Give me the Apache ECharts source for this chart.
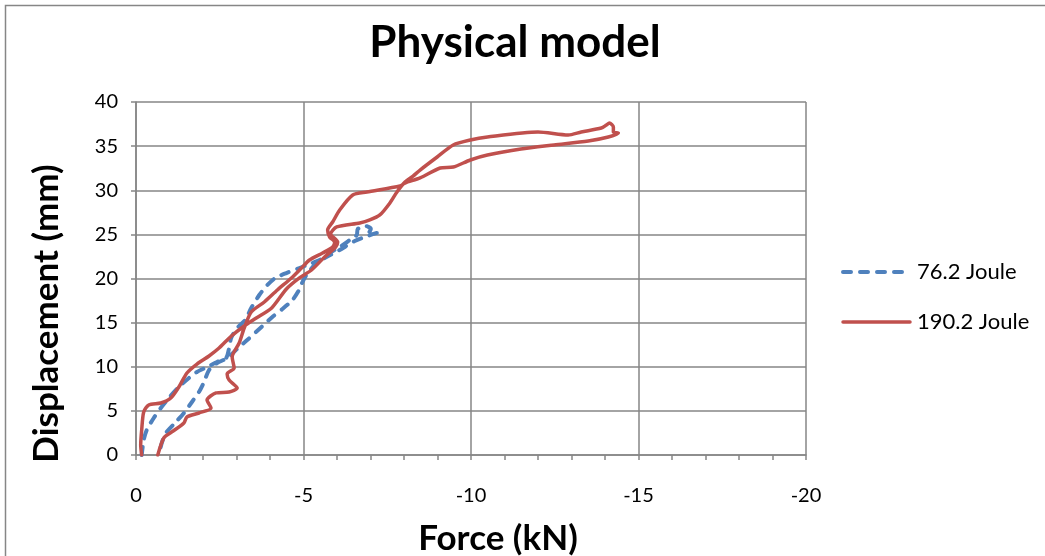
<!DOCTYPE html>
<html>
<head>
<meta charset="utf-8">
<script src="https://cdn.jsdelivr.net/npm/echarts@6/dist/echarts.min.js"></script>
<style>
  html, body { margin: 0; padding: 0; background: #ffffff; }
  #chart { width: 1045px; height: 556px; }
</style>
</head>
<body>
<div id="chart"></div>
<script>
// Hysteresis loops of the physical model: force (kN) against displacement (mm)
const seriesNames = ['76.2 Joule', '190.2 Joule'];

// 76.2 J impact: loading then unloading branch
const force76 = [-0.17,-0.23,-0.32,-0.53,-0.74,-0.98,-1.28,-1.58,-1.82,-2.12,-2.42,-2.69,-2.78,-2.84,-3.02,-3.26,-3.44,-3.68,-3.92,-4.16,-4.49,-4.88,-5.18,-5.48,-5.78,-6.08,-6.38,-6.59,-6.62,-6.86,-7.01,-6.95,-7.19,-6.92,-6.53,-6.08,-5.63,-5.33,-5.09,-4.97,-4.85,-4.67,-4.37,-4.07,-3.68,-3.32,-3.08,-2.72,-2.42,-2.18,-2.03,-1.88,-1.67,-1.43,-1.19,-0.89,-0.77,-0.68];
const disp76 = [0,1.70,2.83,4.19,5.33,6.46,7.71,8.73,9.41,9.97,10.54,10.99,12.12,13.26,14.39,15.30,16.66,18.13,19.26,20.06,20.62,21.19,21.64,22.10,22.89,23.57,24.36,24.93,25.61,25.95,25.61,25.16,25.16,24.82,24.25,23.23,22.32,21.53,20.40,19.60,18.58,17.56,16.54,15.64,14.28,13.03,12.24,10.99,10.42,9.63,8.27,7.14,6.01,4.76,3.74,2.49,1.36,0];

// 190.2 J impact: loading then unloading branch
const force190 = [-0.17,-0.14,-0.17,-0.23,-0.38,-0.74,-1.04,-1.28,-1.52,-1.82,-2.18,-2.48,-2.84,-3.23,-3.59,-4.05,-4.49,-4.88,-5.24,-5.63,-5.96,-6.02,-5.81,-5.99,-6.68,-6.98,-7.28,-7.58,-7.79,-8.03,-8.27,-8.48,-8.99,-9.47,-9.98,-10.49,-12.00,-12.90,-13.29,-13.89,-14.04,-14.13,-14.25,-14.25,-14.40,-14.10,-13.50,-12.48,-11.49,-10.49,-9.98,-9.47,-9.08,-8.48,-8.03,-7.88,-6.89,-6.47,-6.08,-5.87,-5.72,-5.78,-5.93,-5.87,-5.57,-5.18,-4.94,-4.64,-4.22,-3.83,-3.44,-3.23,-3.08,-2.87,-2.93,-2.72,-2.78,-3.02,-2.78,-2.39,-2.12,-2.24,-1.88,-1.52,-1.43,-1.07,-0.83,-0.65];
const disp190 = [0,1.13,2.83,4.87,5.67,5.89,6.46,7.71,9.29,10.31,11.22,12.12,13.46,14.62,15.52,16.66,18.81,20.06,20.96,22.44,23.57,24.14,25.04,25.84,26.29,26.63,27.20,28.56,29.80,30.93,31.61,32.29,33.77,35.13,35.69,36.03,36.60,36.26,36.60,37.05,37.39,37.62,37.17,36.60,36.48,36.03,35.58,35.13,34.67,33.99,33.43,32.63,32.52,31.39,30.82,30.48,29.80,29.46,27.76,26.40,25.50,24.70,24.14,23.57,22.89,22.10,21.19,20.06,18.70,17.34,16.20,14.39,12.69,11.10,9.86,9.18,8.50,7.59,7.14,7.03,6.23,5.33,4.76,4.31,3.63,2.61,1.93,0];

// Axis ranges
const forceMin = -20, forceMax = 0, forceStep = 5;
const dispMin = 0, dispMax = 40, dispStep = 5;

const pair = (xs, ys) => xs.map((x, i) => [x, ys[i]]);

const FONT = 'Lato, "Open Sans", sans-serif';
const GRID_GRAY = '#868686';
const BLUE = '#4F81BD';
const RED = '#C0504D';
const BLUE_DASH = [8, 9];

const chart = echarts.init(document.getElementById('chart'), null, { renderer: 'canvas' });

// Legend keys drawn at the right of the plot
function legendKey(y, name, color, width, dash) {
  return [
    { type: 'line', shape: { x1: 843, y1: y, x2: 910, y2: y },
      style: { stroke: color, lineWidth: width, lineDash: dash || null, lineCap: 'round' }, silent: true },
    { type: 'text', x: 917, y: y, style: { text: name, font: '22px ' + FONT, fill: '#000', textVerticalAlign: 'middle' }, silent: true }
  ];
}

chart.setOption({
  backgroundColor: '#ffffff',
  animation: false,
  textStyle: { fontFamily: FONT, color: '#000' },
  grid: { left: 136, right: 239, top: 102, bottom: 101, containLabel: false, outerBoundsMode: 'none' },
  graphic: [
    { type: 'rect', shape: { x: 5.5, y: 5.5, width: 1100, height: 600 }, style: { fill: 'none', stroke: GRID_GRAY, lineWidth: 1.5 }, silent: true, z: -1 },
    { type: 'text', x: 515, y: 43, style: { text: 'Physical model', font: 'bold 44px ' + FONT, fill: '#000', textAlign: 'center', textVerticalAlign: 'middle' } }
  ].concat(
    legendKey(272, seriesNames[0], BLUE, 4, BLUE_DASH),
    legendKey(322, seriesNames[1], RED, 3.5, null)
  ),
  xAxis: {
    type: 'value',
    inverse: true,
    min: forceMin,
    max: forceMax,
    interval: forceStep,
    name: 'Force (kN)',
    nameLocation: 'middle',
    nameGap: 66,
    nameTextStyle: { fontFamily: FONT, fontSize: 35, fontWeight: 'bold', color: '#000', padding: [0, 0, 0, 54] },
    axisLine: { show: true, lineStyle: { color: GRID_GRAY, width: 1.5 } },
    axisTick: { show: true, inside: false, length: 5, lineStyle: { color: GRID_GRAY, width: 1.5 } },
    minorTick: { show: true, splitNumber: 5, length: 5, lineStyle: { color: GRID_GRAY, width: 1.5 } },
    axisLabel: { margin: 31, fontFamily: FONT, fontSize: 20, color: '#000' },
    splitLine: { show: true, lineStyle: { color: GRID_GRAY, width: 1.5 } }
  },
  yAxis: {
    type: 'value',
    min: dispMin,
    max: dispMax,
    interval: dispStep,
    name: 'Displacement (mm)',
    nameLocation: 'middle',
    nameGap: 72,
    nameRotate: 90,
    nameTextStyle: { fontFamily: FONT, fontSize: 35, fontWeight: 'bold', color: '#000', padding: [0, 70, 0, 0] },
    axisLine: { show: true, lineStyle: { color: GRID_GRAY, width: 1.5 } },
    axisTick: { show: true, inside: false, length: 5, lineStyle: { color: GRID_GRAY, width: 1.5 } },
    axisLabel: { margin: 18, fontFamily: FONT, fontSize: 20, color: '#000' },
    splitLine: { show: true, lineStyle: { color: GRID_GRAY, width: 1.5 } }
  },
  series: [
    {
      name: seriesNames[0],
      type: 'line',
      data: pair(force76, disp76),
      symbol: 'none',
      smooth: 0.25,
      color: BLUE,
      lineStyle: { color: BLUE, width: 4, type: BLUE_DASH, cap: 'round', join: 'round' },
      z: 3
    },
    {
      name: seriesNames[1],
      type: 'line',
      data: pair(force190, disp190),
      symbol: 'none',
      smooth: 0.25,
      color: RED,
      lineStyle: { color: RED, width: 3.5, cap: 'round', join: 'round' },
      z: 4
    }
  ]
});
</script>
</body>
</html>
